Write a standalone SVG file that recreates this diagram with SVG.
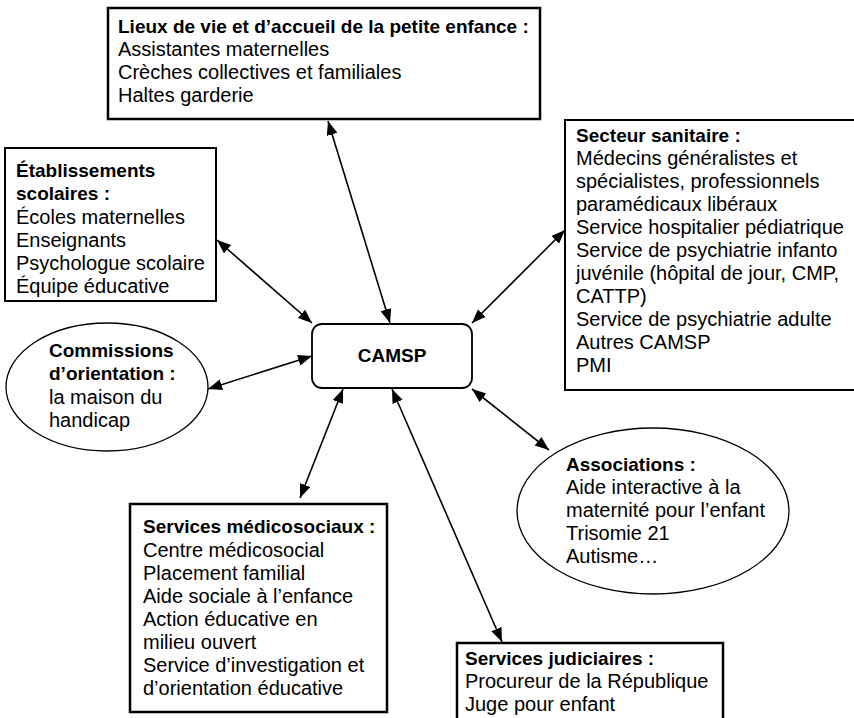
<svg xmlns="http://www.w3.org/2000/svg" width="854" height="718" viewBox="0 0 854 718">
<defs>
<style>
text{font-family:"Liberation Sans",Arial,sans-serif;fill:#000}
.b{font-weight:bold;font-size:19px}
.r{font-size:20px}
.box{fill:#fff;stroke:#000;stroke-width:2.5}
.ell{fill:#fff;stroke:#000;stroke-width:1.3}
.conn line{stroke:#000;stroke-width:1.6;marker-start:url(#ah);marker-end:url(#ah)}
</style>
<marker id="ah" markerUnits="userSpaceOnUse" markerWidth="16" markerHeight="12" refX="14" refY="5.5" orient="auto-start-reverse" viewBox="0 0 16 12">
<path d="M0,0 L14,5.5 L0,11 z" fill="#000"/>
</marker>
</defs>
<rect width="854" height="718" fill="#fff"/>
<g id="connectors" class="conn">
<line x1="328" y1="121" x2="390" y2="323"/>
<line x1="217" y1="240" x2="312" y2="323"/>
<line x1="565" y1="230" x2="472" y2="323"/>
<line x1="208" y1="389" x2="312" y2="356"/>
<line x1="343" y1="389" x2="300" y2="498"/>
<line x1="392" y1="389" x2="502" y2="642"/>
<line x1="472" y1="389" x2="549" y2="450"/>
</g>
<g id="lieux">
<rect class="box" x="108" y="8" width="432" height="111"/>
<text class="b" x="118" y="33">Lieux de vie et d’accueil de la petite enfance :</text>
<text class="r" x="118" y="56">Assistantes maternelles</text>
<text class="r" x="118" y="79">Crèches collectives et familiales</text>
<text class="r" x="118" y="102">Haltes garderie</text>
</g>
<g id="etablissements">
<rect class="box" x="5" y="148" width="211" height="153" style="stroke-width:2"/>
<text class="b" x="16" y="177">Établissements</text>
<text class="b" x="16" y="200">scolaires :</text>
<text class="r" x="16" y="224">Écoles maternelles</text>
<text class="r" x="16" y="247">Enseignants</text>
<text class="r" x="16" y="270">Psychologue scolaire</text>
<text class="r" x="16" y="293">Équipe éducative</text>
</g>
<g id="secteur">
<rect class="box" x="565" y="120" width="300" height="270" style="stroke-width:2"/>
<text class="b" x="576" y="142">Secteur sanitaire :</text>
<text class="r" x="576" y="165">Médecins généralistes et</text>
<text class="r" x="576" y="188">spécialistes, professionnels</text>
<text class="r" x="576" y="211">paramédicaux libéraux</text>
<text class="r" x="576" y="234">Service hospitalier pédiatrique</text>
<text class="r" x="576" y="257">Service de psychiatrie infanto</text>
<text class="r" x="576" y="280">juvénile (hôpital de jour, CMP,</text>
<text class="r" x="576" y="303">CATTP)</text>
<text class="r" x="576" y="326">Service de psychiatrie adulte</text>
<text class="r" x="576" y="349">Autres CAMSP</text>
<text class="r" x="576" y="372">PMI</text>
</g>
<g id="commissions">
<ellipse class="ell" cx="107" cy="387" rx="101" ry="64"/>
<text class="b" x="49" y="357">Commissions</text>
<text class="b" x="49" y="380">d’orientation :</text>
<text class="r" x="49" y="404">la maison du</text>
<text class="r" x="49" y="427">handicap</text>
</g>
<g id="camsp">
<rect x="312" y="324" width="160" height="64" rx="10" ry="10" fill="#fff" stroke="#000" stroke-width="1.8"/>
<text class="b" x="392" y="362" text-anchor="middle">CAMSP</text>
</g>
<g id="associations">
<ellipse class="ell" cx="653" cy="511" rx="136" ry="83"/>
<text class="b" x="566" y="471">Associations :</text>
<text class="r" x="566" y="494">Aide interactive à la</text>
<text class="r" x="566" y="517">maternité pour l’enfant</text>
<text class="r" x="566" y="540">Trisomie 21</text>
<text class="r" x="566" y="563">Autisme…</text>
</g>
<g id="medicosociaux">
<rect class="box" x="130" y="504" width="257" height="208"/>
<text class="b" x="143" y="533">Services médicosociaux :</text>
<text class="r" x="143" y="557">Centre médicosocial</text>
<text class="r" x="143" y="580">Placement familial</text>
<text class="r" x="143" y="603">Aide sociale à l’enfance</text>
<text class="r" x="143" y="626">Action éducative en</text>
<text class="r" x="143" y="649">milieu ouvert</text>
<text class="r" x="143" y="672">Service d’investigation et</text>
<text class="r" x="143" y="695">d’orientation éducative</text>
</g>
<g id="judiciaires">
<rect class="box" x="457" y="643" width="266" height="100"/>
<text class="b" x="465" y="665">Services judiciaires :</text>
<text class="r" x="465" y="688">Procureur de la République</text>
<text class="r" x="465" y="711">Juge pour enfant</text>
</g>
</svg>
